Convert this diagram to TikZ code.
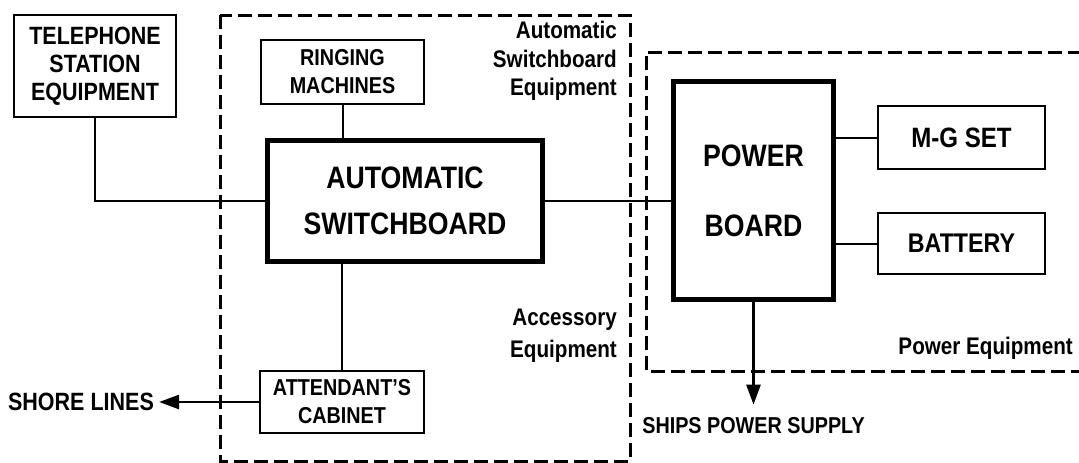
\documentclass[tikz,border=0pt]{standalone}
\usepackage{fontspec}
\newfontfamily\labfont[FakeStretch=0.86]{Liberation Sans}
\usetikzlibrary{arrows.meta}
\tikzset{
  tbox/.style={draw, line width=2pt, inner sep=0pt, align=center, font=\labfont\bfseries\fontsize{25}{28}\selectfont},
  thickbox/.style={draw, line width=5pt, inner sep=0pt, align=center, font=\labfont\bfseries\fontsize{31}{46}\selectfont},
  conn/.style={line width=2pt},
  arr/.style={line width=2.5pt, -{Triangle[length=20pt, width=14pt]}},
  dashbox/.style={line width=3pt, dash pattern=on 14pt off 6pt},
  lbl/.style={inner sep=0pt, font=\labfont\bfseries\fontsize{25}{28}\selectfont},
  grp/.style={inner sep=0pt, align=right, font=\labfont\bfseries\fontsize{24}{28.5}\selectfont}
}
\begin{document}
\begin{tikzpicture}[x=1pt, y=-1pt]
\useasboundingbox (0,0) rectangle (1079,463);
% group outlines
\draw[dashbox] (220,15) rectangle (630,461);
\draw[dashbox] (1082,52) -- (646,52) -- (646,371) -- (1082,371);
% boxes
\node[tbox, minimum width=162pt, minimum height=102pt] (tel) at (95,66) {TELEPHONE\\STATION\\EQUIPMENT};
\node[tbox, minimum width=163pt, minimum height=64pt, font=\labfont\bfseries\fontsize{23}{28}\selectfont] (ring) at (342.5,72) {RINGING\\MACHINES};
\node[thickbox, minimum width=275pt, minimum height=121pt] (sw) at (405,201) {AUTOMATIC\\SWITCHBOARD};
\node[tbox, minimum width=164pt, minimum height=62pt, font=\labfont\bfseries\fontsize{23}{28}\selectfont] (att) at (342,402) {ATTENDANT’S\\CABINET};
\node[thickbox, minimum width=160pt, minimum height=218pt, font=\labfont\bfseries\fontsize{31}{70}\selectfont] (pb) at (753.5,190.5) {POWER\\BOARD};
\node[tbox, minimum width=167pt, minimum height=63pt, font=\labfont\bfseries\fontsize{28}{30}\selectfont] (mg) at (961.5,137.5) {M-G SET};
\node[tbox, minimum width=167pt, minimum height=61pt, font=\labfont\bfseries\fontsize{27}{30}\selectfont] (bat) at (961.5,243.5) {BATTERY};
% free labels
\node[lbl, inner xsep=5pt] (shore) at (81,402) {SHORE LINES};
\node[lbl, inner ysep=13pt, font=\labfont\bfseries\fontsize{23}{28}\selectfont] (ships) at (753.5,426) {SHIPS POWER SUPPLY};
\node[grp, anchor=east] (gasw) at (617,61) {Automatic\\Switchboard\\Equipment};
\node[grp, anchor=east, font=\labfont\bfseries\fontsize{24}{32}\selectfont] (gacc) at (617,336) {Accessory\\Equipment};
\node[grp, anchor=east] (gpow) at (1073,348) {Power Equipment};
% connectors
\draw[conn] (tel.south) |- (sw.west);
\draw[conn] (ring.south) -- (ring.south |- sw.north);
\draw[conn] (att.north) -- (att.north |- sw.south);
\draw[conn] (sw.east) -- (sw.east -| pb.west);
\draw[conn] (mg.west) -- (mg.west -| pb.east);
\draw[conn] (bat.west) -- (bat.west -| pb.east);
\draw[arr] (pb.south) -- (ships.north);
\draw[arr] (att.west) -- (shore.east);
\end{tikzpicture}
\end{document}
